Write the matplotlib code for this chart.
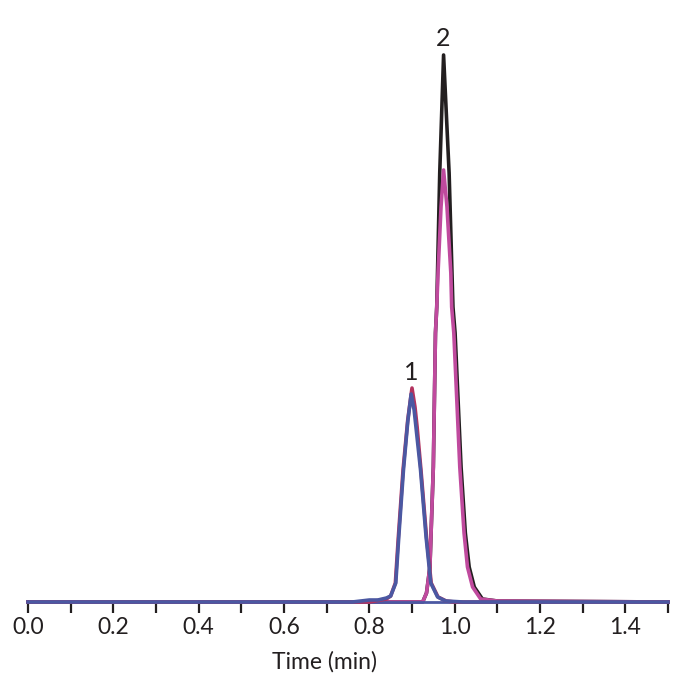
import numpy as np
import matplotlib.pyplot as plt

plt.rcParams['font.family'] = ['Lato', 'DejaVu Sans']

# trace 1 (blue): peak 1
t_blue = [0.0, 0.76, 0.78, 0.80, 0.82, 0.84, 0.850, 0.862, 0.869, 0.880, 0.890,
          0.898, 0.905, 0.910, 0.920, 0.933, 0.944, 0.960, 0.979, 1.00, 1.02, 1.5]
y_blue = [0, 0, 1, 2, 2, 4, 6, 19, 65, 132, 180,
          208, 192, 172, 132, 65, 19, 5, 1, 0.5, 0, 0]

# trace 2 (crimson): peak 1, drawn under the blue one
t_red = [0.0, 0.80, 0.84, 0.850, 0.861, 0.868, 0.879, 0.890,
         0.900, 0.907, 0.912, 0.921, 0.934, 0.945, 0.961, 0.98, 1.00, 1.5]
y_red = [0, 0, 3, 6, 19, 65, 132, 182,
         214, 195, 175, 132, 65, 19, 5, 1, 0, 0]

# trace 3 (magenta): peak 2
t_mag = [0.0, 0.925, 0.934, 0.942, 0.950, 0.955, 0.958, 0.961, 0.968,
         0.974, 0.982, 0.991, 0.993, 0.998, 1.005, 1.012, 1.022, 1.030,
         1.042, 1.061, 1.10, 1.5]
y_mag = [0, 0, 9, 35, 135, 269, 295, 329, 395,
         432, 395, 329, 295, 269, 202, 135, 69, 35,
         15, 3, 1, 0]

# trace 4 (black): peak 2
t_blk = [0.0, 0.925, 0.934, 0.942, 0.950, 0.955, 0.958, 0.965,
         0.974, 0.987, 0.996, 1.001, 1.008, 1.015, 1.025, 1.034,
         1.046, 1.065, 1.10, 1.5]
y_blk = [0, 0, 9, 35, 135, 269, 295, 429,
         547, 429, 295, 269, 202, 135, 69, 35,
         15, 3, 1, 0]

x_ticks = [0.0, 0.2, 0.4, 0.6, 0.8, 1.0, 1.2, 1.4]

fig = plt.figure(figsize=(6.96, 6.97), dpi=100)
ax = fig.add_axes([28 / 696, 1 - 602 / 697, 640 / 696, 582 / 697])

lw = 2.6
ax.plot(t_blk, y_blk, color='#231f20', lw=lw, zorder=1, clip_on=False)
ax.plot(t_mag, y_mag, color='#c04a9e', lw=lw, zorder=2, clip_on=False)
ax.plot(t_red, y_red, color='#b3335f', lw=lw, zorder=3, clip_on=False)
ax.plot(t_blue, y_blue, color='#4b58a2', lw=lw, zorder=4, clip_on=False)

# peak labels
i1 = int(np.argmax(y_red))
i2 = int(np.argmax(y_blk))
ax.text(t_red[i1] - 0.002, y_red[i1] + 4, '1', ha='center', va='bottom', fontsize=18, color='#231f20')
ax.text(t_blk[i2], y_blk[i2] + 5, '2', ha='center', va='bottom', fontsize=18, color='#231f20')

ax.set_xlim(0, 1.5)
ax.set_ylim(0, 582)
ax.set_xticks(x_ticks)
ax.set_xticks(np.arange(0.1, 1.55, 0.2), minor=True)
ax.set_yticks([])
ax.tick_params(axis='x', which='both', direction='out', length=8, width=1.6,
               color='#231f20', labelsize=16.5, labelcolor='#231f20', pad=3)
for s in ['left', 'right', 'top']:
    ax.spines[s].set_visible(False)
ax.spines['bottom'].set_color('#4b58a2')
ax.spines['bottom'].set_linewidth(2)

ax.set_xlabel('Time (min)', fontsize=16.5, color='#231f20')
ax.xaxis.set_label_coords(0.4625, -0.085)

fig.savefig('out.png', dpi=100)
